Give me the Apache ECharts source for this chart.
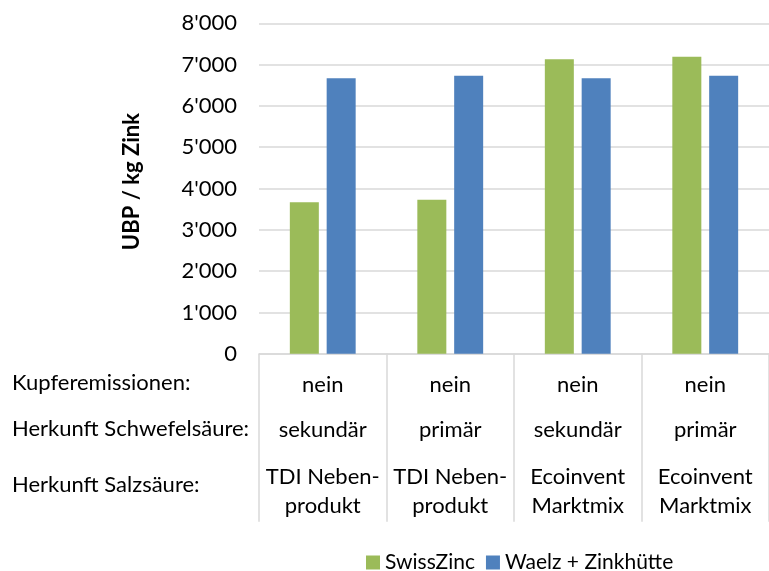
<!DOCTYPE html>
<html>
<head>
<meta charset="utf-8">
<script src="https://cdn.jsdelivr.net/npm/echarts@6/dist/echarts.min.js"></script>
<style>
html,body{margin:0;padding:0;background:#fff;}
#c{width:769px;height:571px;}
</style>
</head>
<body>
<div id="c"></div>
<script>
var categories = ['A', 'B', 'C', 'D'];
var kupfer = ['nein', 'nein', 'nein', 'nein'];
var schwefel = ['sekundär', 'primär', 'sekundär', 'primär'];
var salz = ['TDI Neben-\nprodukt', 'TDI Neben-\nprodukt', 'Ecoinvent\nMarktmix', 'Ecoinvent\nMarktmix'];
var rowTitles = ['Kupferemissionen:', 'Herkunft Schwefelsäure:', 'Herkunft Salzsäure:'];
var swissZinc = [3670, 3730, 7130, 7190];
var waelz = [6670, 6730, 6670, 6730];
var seriesNames = ['SwissZinc', 'Waelz + Zinkhütte'];
var yTicks = {min: 0, max: 8000, interval: 1000};

var FONT = 'Lato';
function fmt(v) { return String(v).replace(/\B(?=(\d{3})+(?!\d))/g, "'"); }

var chart = echarts.init(document.getElementById('c'), null, {renderer: 'canvas'});
chart.setOption({
  animation: false,
  backgroundColor: '#fff',
  grid: {left: 259, top: 23.3, width: 517, height: 330.5, containLabel: false},
  legend: {
    data: seriesNames,
    left: 361, top: 547,
    itemWidth: 14, itemHeight: 14, itemGap: 11,
    icon: 'rect',
    textStyle: {fontFamily: FONT, fontSize: 21, color: '#000'}
  },
  xAxis: {
    type: 'category',
    data: categories,
    axisLine: {lineStyle: {color: '#d9d9d9', width: 1.5}},
    axisTick: {show: true, interval: 0, length: 168, lineStyle: {color: '#d9d9d9', width: 1.5}},
    axisLabel: {
      interval: 0,
      margin: 18,
      formatter: function (v, i) {
        var s = salz[i].split('\n');
        return '{r1|' + kupfer[i] + '}\n{r2|' + schwefel[i] + '}\n{r3|' + s[0] + '}\n{r3|' + s[1] + '}';
      },
      rich: {
        r1: {fontFamily: FONT, fontSize: 22, color: '#000', lineHeight: 26, align: 'center'},
        r2: {fontFamily: FONT, fontSize: 22, color: '#000', lineHeight: 65, align: 'center'},
        r3: {fontFamily: FONT, fontSize: 22, color: '#000', lineHeight: 29, align: 'center'}
      }
    }
  },
  yAxis: {
    type: 'value',
    min: yTicks.min, max: yTicks.max, interval: yTicks.interval,
    name: 'UBP / kg Zink',
    nameLocation: 'middle',
    nameRotate: 90,
    nameGap: 116,
    nameTextStyle: {fontFamily: FONT, fontSize: 22, fontWeight: 'bold', color: '#000', padding: [0, 0, 0, 14]},
    axisLine: {show: false},
    axisTick: {show: false},
    splitLine: {lineStyle: {color: '#d9d9d9', width: 1.5}},
    axisLabel: {fontFamily: FONT, fontSize: 22, color: '#000', margin: 22, formatter: fmt}
  },
  series: [
    {name: seriesNames[0], type: 'bar', data: swissZinc, barWidth: 29, barGap: '27%',
     itemStyle: {color: '#9BBB59'}},
    {name: seriesNames[1], type: 'bar', data: waelz, barWidth: 29,
     itemStyle: {color: '#4F81BD'}}
  ],
  graphic: rowTitles.map(function (t, i) {
    var ys = [385, 431, 487];
    return {type: 'text', left: 12, top: ys[i] - 13,
      style: {text: t, fontFamily: FONT, fontSize: 22, fill: '#000'}};
  })
});
</script>
</body>
</html>
